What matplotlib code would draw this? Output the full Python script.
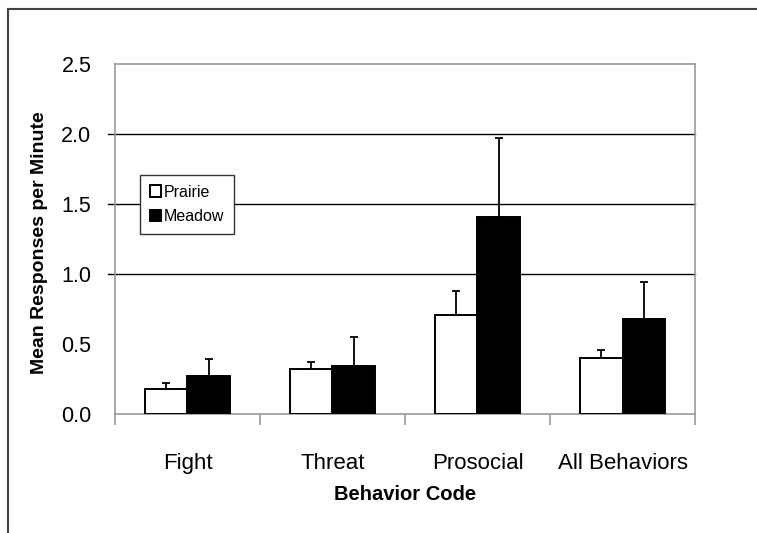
import numpy as np
import matplotlib
matplotlib.use('Agg')
import matplotlib.pyplot as plt
from matplotlib.lines import Line2D

plt.rcParams['font.family'] = ['Liberation Sans', 'DejaVu Sans']

# data
categories = ['Fight', 'Threat', 'Prosocial', 'All Behaviors']
prairie = [0.18, 0.32, 0.71, 0.40]
prairie_err = [0.04, 0.05, 0.17, 0.06]
meadow = [0.27, 0.34, 1.41, 0.68]
meadow_err = [0.12, 0.21, 0.56, 0.26]
grid_levels = [1.0, 1.5, 2.0]

fig = plt.figure(figsize=(7.57, 5.33), dpi=100)
ax = fig.add_axes([0.1519, 0.2233, 0.7662, 0.6566])

x = np.arange(len(categories))
w = 0.29
ax.bar(x - w / 2, prairie, w, color='white', edgecolor='black', linewidth=1.4,
       label='Prairie', zorder=3)
ax.bar(x + w / 2, meadow, w, color='black', edgecolor='black', linewidth=1.4,
       label='Meadow', zorder=3)
ax.errorbar(x - w / 2, prairie, yerr=[np.zeros(4), prairie_err], fmt='none',
            ecolor='black', elinewidth=1.3, capsize=2.8, capthick=1.3, zorder=2)
ax.errorbar(x + w / 2, meadow, yerr=[np.zeros(4), meadow_err], fmt='none',
            ecolor='black', elinewidth=1.3, capsize=2.8, capthick=1.3, zorder=2)

# gridlines with little ticks outside the axis
for g in grid_levels:
    ax.axhline(g, xmin=-0.012, xmax=1, color='black', linewidth=1.0,
               clip_on=False, zorder=1)

ax.set_xlim(-0.5, len(categories) - 0.5)
ax.set_ylim(0, 2.5)
ax.set_yticks(np.arange(0, 2.51, 0.5))
ax.set_yticklabels(['%.1f' % v for v in np.arange(0, 2.51, 0.5)], fontsize=15.5)
ax.tick_params(axis='y', length=0, pad=17)
ax.set_xticks(x)
ax.set_xticklabels(categories, fontsize=16)
ax.set_xticks(np.arange(-0.5, len(categories)), minor=True)
ax.tick_params(axis='x', which='major', length=0, pad=28)
ax.tick_params(axis='x', which='minor', length=8, color='#999999', width=1.2)

for s in ax.spines.values():
    s.set_color('#999999')
    s.set_linewidth(1.2)

ax.set_ylabel('Mean Responses per Minute', fontsize=14, fontweight='bold')
ax.yaxis.set_label_coords(-0.1155, 0.49)
ax.set_xlabel('Behavior Code', fontsize=14.5, fontweight='bold', labelpad=8)

leg = ax.legend(loc='upper left', bbox_to_anchor=(0.043, 0.683),
                borderaxespad=0, fontsize=11.5, handlelength=0.7,
                handleheight=0.7, handletextpad=0.2, fancybox=False,
                edgecolor='#333333', framealpha=1, borderpad=0.6,
                labelspacing=0.6)
leg.get_frame().set_linewidth(1.0)
leg.set_zorder(5)

# outer frame (top and left)
fig.add_artist(Line2D([8 / 757, 1], [1 - 9 / 533, 1 - 9 / 533],
                      color='#444444', linewidth=1.5))
fig.add_artist(Line2D([8 / 757, 8 / 757], [0, 1 - 9 / 533],
                      color='#444444', linewidth=1.5))

fig.savefig('out.png', dpi=100)
